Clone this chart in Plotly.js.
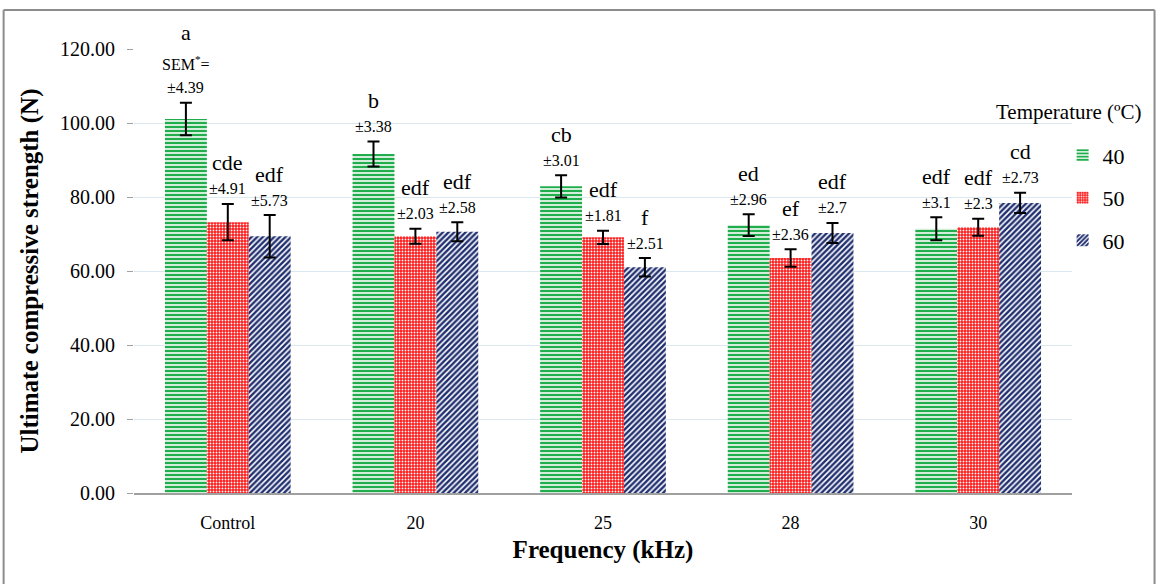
<!DOCTYPE html>
<html>
<head>
<meta charset="utf-8">
<script src="https://cdn.plot.ly/plotly-3.0.1.min.js"></script>
<style>
html,body{margin:0;padding:0;background:#fff;}
#chart{width:1157px;height:584px;}
</style>
</head>
<body>
<div id="chart"></div>
<script>
// ---- data ----
const categories = ['Control', '20', '25', '28', '30'];
const seriesNames = ['40', '50', '60'];
const t40 = [101.1, 91.6, 82.9, 72.4, 71.4];
const t50 = [73.2, 69.4, 69.1, 63.5, 71.8];
const t60 = [69.4, 70.6, 61.0, 70.3, 78.4];
const sem40 = [4.39, 3.38, 3.01, 2.96, 3.1];
const sem50 = [4.91, 2.03, 1.81, 2.36, 2.3];
const sem60 = [5.73, 2.58, 2.51, 2.7, 2.73];
const letters40 = ['a', 'b', 'cb', 'ed', 'edf'];
const letters50 = ['cde', 'edf', 'edf', 'ef', 'edf'];
const letters60 = ['edf', 'edf', 'f', 'edf', 'cd'];
const yTicks = [0, 20, 40, 60, 80, 100, 120];

// ---- styles ----
const FONT = '"Liberation Serif", "Times New Roman", serif';
const patterns = [
  {shape: '-', fgcolor: '#1fae4b', bgcolor: '#ffffff', size: 4, solidity: 0.6, fillmode: 'replace'},
  {shape: '.', fgcolor: '#ffffff', bgcolor: '#ff1a1a', size: 3, solidity: 0.3, fillmode: 'replace'},
  {shape: '/', fgcolor: '#1f2e6e', bgcolor: '#ffffff', size: 4, solidity: 0.6, fillmode: 'replace'}
];
const values = [t40, t50, t60];
const sems = [sem40, sem50, sem60];
const letters = [letters40, letters50, letters60];

const traces = values.map((v, i) => ({
  type: 'bar',
  name: seriesNames[i],
  x: categories,
  y: v,
  legendgroup: 'g' + i,
  marker: {color: patterns[i].bgcolor, pattern: patterns[i], line: {width: 0}},
  error_y: {type: 'data', array: sems[i], visible: true, color: '#000', thickness: 2, width: 6}
}));

// annotations (positioned relative to each bar's error-bar top)
const barOffset = 42;
const annotations = [];
for (let s = 0; s < 3; s++) {
  for (let c = 0; c < categories.length; c++) {
    const top = values[s][c] + sems[s][c];
    const xs = (s - 1) * barOffset;
    const special = (s === 0 && c === 0);
    annotations.push({
      x: c, y: top, xref: 'x', yref: 'y', xshift: xs, yshift: 15,
      text: '±' + sems[s][c], showarrow: false, yanchor: 'middle',
      font: {family: FONT, size: 16, color: '#000'}
    });
    if (special) {
      annotations.push({
        x: c, y: top, xref: 'x', yref: 'y', xshift: xs, yshift: 40,
        text: 'SEM<sup>*</sup>=', showarrow: false, yanchor: 'middle',
        font: {family: FONT, size: 16, color: '#000'}
      });
    }
    annotations.push({
      x: c, y: top, xref: 'x', yref: 'y', xshift: xs, yshift: special ? 70 : 41,
      text: letters[s][c], showarrow: false, yanchor: 'middle',
      font: {family: FONT, size: 22, color: '#000'}
    });
  }
}
// legend title as annotation
annotations.push({
  x: 1.0, y: 0.858, xref: 'paper', yref: 'paper', xanchor: 'left', yanchor: 'middle',
  xshift: -78, text: 'Temperature (ºC)', showarrow: false,
  font: {family: FONT, size: 21, color: '#000'}
});

const layout = {
  width: 1157, height: 584,
  margin: {l: 134, r: 85, t: 49, b: 91},
  paper_bgcolor: '#fff', plot_bgcolor: '#fff',
  font: {family: FONT, color: '#000'},
  barmode: 'group', bargap: 0.33, bargroupgap: 0,
  showlegend: true,
  legend: {
    x: 0.99, xanchor: 'left', y: 0.808, yanchor: 'top',
    font: {family: FONT, size: 22, color: '#000'},
    traceorder: 'grouped', tracegroupgap: 11, itemwidth: 30,
    bgcolor: 'rgba(0,0,0,0)'
  },
  xaxis: {
    type: 'category', range: [-0.5, 4.5],
    showline: true, linecolor: '#a0a0a0', linewidth: 2,
    ticks: 'outside', ticklen: 12, tickcolor: 'rgba(0,0,0,0)',
    tickfont: {family: FONT, size: 18, color: '#000'},
    title: {text: '<b>Frequency (kHz)</b>', font: {family: FONT, size: 25, color: '#000'}, standoff: 9},
    fixedrange: true, automargin: false
  },
  yaxis: {
    range: [0, 120], tickvals: yTicks, ticktext: yTicks.map(v => v.toFixed(2)),
    showgrid: true, gridcolor: '#dbe8f0', gridwidth: 1,
    zeroline: false, showline: false,
    ticks: 'outside', ticklen: 6, tickcolor: '#a0a0a0', tickwidth: 1,
    ticklabelstandoff: 8,
    tickfont: {family: FONT, size: 20, color: '#000'},
    title: {text: '<b>Ultimate compressive strength (N)</b>', font: {family: FONT, size: 25, color: '#000'}, standoff: 14},
    fixedrange: true, automargin: false
  },
  annotations: annotations,
  shapes: [
    {type: 'line', xref: 'paper', yref: 'paper', x0: -0.139, x1: -0.139, y0: -0.21, y1: 1.088, line: {color: '#8c8c8c', width: 2}},
    {type: 'line', xref: 'paper', yref: 'paper', x0: -0.139, x1: 1.088, y0: 1.088, y1: 1.088, line: {color: '#8c8c8c', width: 2}},
    {type: 'line', xref: 'paper', yref: 'paper', x0: 1.088, x1: 1.088, y0: -0.21, y1: 1.088, line: {color: '#8c8c8c', width: 2}}
  ]
};

Plotly.newPlot('chart', traces, layout, {displayModeBar: false, staticPlot: true});
</script>
</body>
</html>
